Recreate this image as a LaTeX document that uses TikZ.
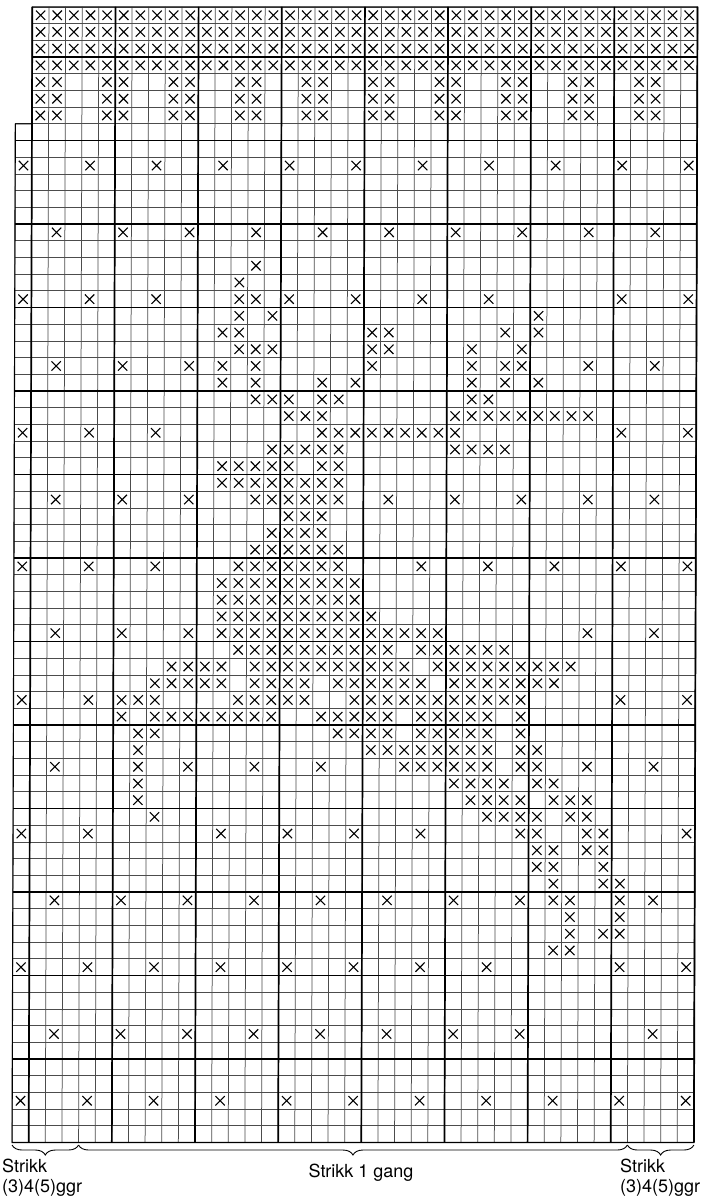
\documentclass[tikz,border=0pt]{standalone}
\usepackage{fontspec}
\setmainfont{TeX Gyre Heros}
\usetikzlibrary{decorations.pathreplacing}
\newcommand\kmark[2]{\draw[xmark] (#1+0.22,#2+0.22) -- (#1+0.78,#2+0.78) (#1+0.22,#2+0.78) -- (#1+0.78,#2+0.22);}
\newcommand\krow[2]{\foreach \cc in {#2} {\kmark{\cc}{#1}}}
\newcommand\krng[3]{\foreach \cc in {#2,...,#3} {\kmark{\cc}{#1}}}
\begin{document}
\begin{tikzpicture}[x=1pt,y=-1pt]
\tikzset{
  thinline/.style={line width=0.75pt, black!70},
  thickline/.style={line width=1.7pt, black},
  borderline/.style={line width=1.1pt, black},
  xmark/.style={line width=1.1pt, black},
  bracestyle/.style={decorate, decoration={brace, mirror, amplitude=10pt}, line width=0.9pt},
  lbl/.style={font=\fontsize{18}{20}\selectfont, inner sep=0pt},
}
\fill[white] (0,0) rectangle (706,1200);
\useasboundingbox (0,0) rectangle (706,1200);
\begin{scope}[shift={(15.7pt,-6.9pt)}, xslant=0.0032, x=16.63pt, y=-16.7pt]
  % thin grid
  \foreach \r in {0,...,6} {\draw[thinline] (1,\r) -- (41,\r);}
  \foreach \r in {7,...,68} {\draw[thinline] (0,\r) -- (41,\r);}
  \draw[thinline] (0,7) -- (0,68);
  \foreach \c in {1,...,41} {\draw[thinline] (\c,0) -- (\c,68);}
  % thick grid
  \draw[thickline] (1,3) -- (41,3);
  \foreach \r in {8,13,...,68} {\draw[thickline] (0,\r) -- (41,\r);}
  \foreach \c in {1,6,...,41} {\draw[thickline] (\c,0) -- (\c,68);}
  \draw[borderline] (1,7) -- (1,0) -- (41,0) -- (41,68) -- (0,68) -- (0,7) -- (1,7);
  % top band
  \foreach \r in {0,...,3} {\krng{\r}{1}{40}}
  \foreach \r in {4,5,6} {\krow{\r}{1,2,5,6,9,10,13,14,17,18,21,22,25,26,29,30,33,34,37,38}}
  % main chart
  \krow{9}{0,4,8,12,16,20,24,28,32,36,40}
  \krow{13}{2,6,10,14,18,22,26,30,34,38}
  \krow{15}{14}
  \krow{16}{13}
  \krow{17}{0,4,8,13,14,16,20,24,28,36,40}
  \krow{18}{13,15,31}
  \krow{19}{12,13,21,22,29,31}
  \krow{20}{13,14,15,21,22,27,30}
  \krow{21}{2,6,10,12,14,21,27,29,30,34,38}
  \krow{22}{12,14,18,20,27,29,31}
  \krow{23}{14,15,16,18,19,27,28}
  \krow{24}{16,17,18}\krng{24}{26}{34}
  \krow{25}{0,4,8,36,40}\krng{25}{18}{26}
  \krng{26}{15}{19}\krng{26}{26}{29}
  \krng{27}{12}{16}\krow{27}{18,19}
  \krng{28}{12}{19}
  \krow{29}{2,6,10,22,26,30,34,38}\krng{29}{14}{19}
  \krng{30}{16}{18}
  \krng{31}{15}{18}
  \krng{32}{14}{19}
  \krow{33}{0,4,8,24,28,32,36,40}\krng{33}{13}{19}
  \krng{34}{12}{20}
  \krng{35}{12}{20}
  \krng{36}{12}{21}
  \krow{37}{2,6,10,34,38}\krng{37}{12}{25}
  \krng{38}{13}{22}\krng{38}{24}{29}
  \krng{39}{9}{12}\krng{39}{14}{23}\krng{39}{25}{33}
  \krng{40}{8}{12}\krng{40}{14}{17}\krng{40}{19}{24}\krng{40}{26}{32}
  \krow{41}{0,4,6,7,8,36,40}\krng{41}{13}{17}\krng{41}{20}{30}
  \krow{42}{6,30}\krng{42}{8}{15}\krng{42}{18}{22}\krng{42}{24}{28}
  \krow{43}{7,8,30}\krng{43}{19}{22}\krng{43}{24}{28}
  \krow{44}{7,30,31}\krng{44}{21}{28}
  \krow{45}{2,7,10,14,18,30,31,34,38}\krng{45}{23}{28}
  \krow{46}{7,26,27,28,29,31,32}
  \krow{47}{7,27,28,29,30,32,33,34}
  \krow{48}{8,28,29,30,31,33,34}
  \krow{49}{0,4,12,16,20,24,30,31,34,35,40}
  \krow{50}{31,32,34,35}
  \krow{51}{31,32,35}
  \krow{52}{32,35,36}
  \krow{53}{2,6,10,14,18,22,26,30,32,33,36,38}
  \krow{54}{33,36}
  \krow{55}{33,35,36}
  \krow{56}{32,33}
  \krow{57}{0,4,8,12,16,20,24,28,36,40}
  \krow{61}{2,6,10,14,18,22,26,30,38}
  \krow{65}{0,4,8,12,16,20,24,28,32,36,40}
  % braces
  \coordinate (b0) at (0,68.15);
  \coordinate (b1) at (4,68.15);
  \coordinate (b2) at (37,68.15);
  \coordinate (b3) at (41,68.15);
  \draw[bracestyle] (b0) -- (b1);
  \draw[bracestyle] (b1) -- (b2);
  \draw[bracestyle] (b2) -- (b3);
\end{scope}
\node[lbl, anchor=base west] (sl1) at (2,1172.5) {Strikk};
\node[lbl, anchor=base west] (sl2) at (2,1192) {(3)4(5)ggr};
\node[lbl, anchor=base] (sm) at (361,1177) {Strikk 1 gang};
\node[lbl, anchor=base west] (sr1) at (620,1172.5) {Strikk};
\node[lbl, anchor=base west] (sr2) at (620,1192) {(3)4(5)ggr};
\end{tikzpicture}
\end{document}
